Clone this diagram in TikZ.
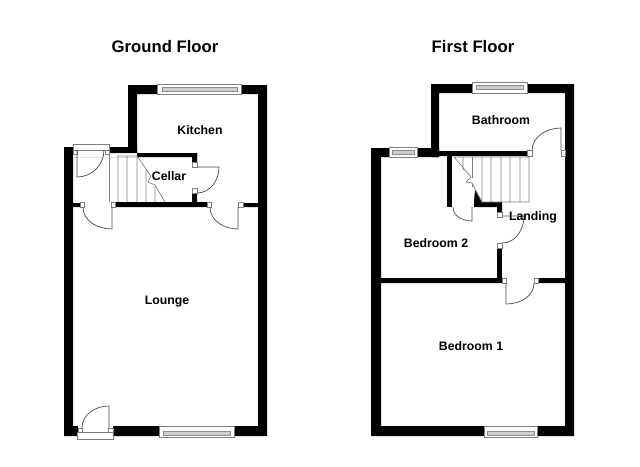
\documentclass[tikz,border=0pt]{standalone}
\usepackage{fontspec}
\setmainfont{Liberation Sans}
\usepackage{tikz}
\tikzset{
  x=1pt,y=1pt,
  wall/.style={fill=black,draw=none},
  thin line/.style={draw=black!50,line width=0.7pt},
  door/.style={draw=black!70,line width=0.7pt},
  frame/.style={draw=black!50,fill=white,line width=0.7pt},
  pane/.style={draw=black!45,fill=black!20,line width=0.6pt},
  room/.style={font=\bfseries\fontsize{12.3}{14}\selectfont,inner sep=0pt},
  floor title/.style={font=\bfseries\fontsize{16.7}{19}\selectfont,inner sep=0pt}
}
\begin{document}
\begin{tikzpicture}
\useasboundingbox[fill=white] (0,0) rectangle (640,-466);

\fill[wall] (128,-85) -- (267,-85) -- (267,-436) -- (64,-436) -- (64,-147) -- (128,-147) -- cycle
  (137,-94) -- (137,-157) -- (73,-157) -- (73,-426) -- (258,-426) -- (258,-94) -- cycle;
\fill[white] (73,-147) rectangle (109,-157) (109,-153) rectangle (137,-157);
\fill[wall] (109,-148) rectangle (137,-153) (137,-153) rectangle (197,-157);
\fill[wall] (192,-153) rectangle (197,-162) (192,-193) rectangle (197,-203);
\fill[wall] (115,-202) rectangle (207,-207) (73,-203) rectangle (80,-207) (243,-203) rectangle (258,-207);

\draw[frame] (157,-84) rectangle (241,-94);
\draw[pane] (162,-87) rectangle (237,-91);
\draw[frame] (159,-426) rectangle (234,-437);
\draw[pane] (163,-431) rectangle (230,-435);

\draw[frame] (73,-144) rectangle (109,-150);
\draw[frame] (73,-150) rectangle (77,-154);
\draw[frame] (105,-150) rectangle (109,-154);
\draw[door] (77,-150) -- (77,-177) to[out=0,in=270] (104,-150);

\draw[frame] (192,-162) rectangle (197,-167);
\draw[frame] (192,-188) rectangle (197,-193);
\draw[door] (197,-167) -- (219,-167) to[out=270,in=0] (197,-193);

\draw[thin line] (109,-150) -- (109,-202);
\draw[frame] (111,-202) rectangle (115,-207);
\draw[frame] (80,-202) rectangle (84,-207);
\draw[door] (112,-207) -- (112,-229) to[out=180,in=270] (83,-207);

\draw[frame] (207,-202) rectangle (211,-207);
\draw[frame] (238,-202) rectangle (243,-207);
\draw[door] (238,-207) -- (238,-229) to[out=180,in=270] (210,-207);

\fill[white] (78,-426) rectangle (113,-436);
\draw[frame] (77,-432) rectangle (113,-439);
\draw[frame] (78,-428) rectangle (82,-432);
\draw[frame] (108,-428) rectangle (113,-432);
\draw[door] (109,-428) -- (109,-406) to[out=180,in=90] (82,-428);

\draw[thin line] (117,-156) -- (137,-156)
  (118,-156) -- (118,-202) (127,-156) -- (127,-202) (137,-156) -- (137,-202)
  (146,-170) -- (146,-202) (155,-186) -- (155,-202)
  (137,-156) -- (151,-176) -- (148,-182) -- (155,-185) -- (165,-202);

\fill[wall] (431,-84) -- (574,-84) -- (574,-436) -- (371,-436) -- (371,-148) -- (431,-148) -- cycle
  (439,-93) -- (439,-157) -- (381,-157) -- (381,-426) -- (565,-426) -- (565,-93) -- cycle;
\fill[wall] (431,-148) rectangle (439,-157) (439,-151) rectangle (528,-156);
\fill[wall] (447,-156) rectangle (452,-207);
\fill[wall] (474,-202) rectangle (502,-207) (497,-202) rectangle (502,-212);
\fill[wall] (475,-190) -- (482,-202) -- (474,-202) -- cycle;
\fill[wall] (497,-248) rectangle (502,-280);
\fill[wall] (381,-278) rectangle (502,-283) (538,-278) rectangle (565,-283);

\draw[frame] (472,-82) rectangle (527,-93);
\draw[pane] (476,-85) rectangle (523,-89);
\draw[frame] (389,-147) rectangle (417,-157);
\draw[pane] (392,-150) rectangle (414,-154);
\draw[frame] (484,-426) rectangle (537,-437);
\draw[pane] (487,-431) rectangle (534,-435);

\draw[frame] (527,-150) rectangle (532,-156);
\draw[frame] (561,-150) rectangle (565,-156);
\draw[door] (561,-150) -- (561,-128) to[out=180,in=90] (532,-151);

\draw[door] (472,-207) -- (472,-221) to[out=180,in=270] (453,-207);

\draw[frame] (497,-212) rectangle (502,-217);
\draw[frame] (497,-243) rectangle (502,-248);
\draw[door] (502,-216) -- (524,-216) to[out=270,in=0] (502,-243);

\draw[frame] (502,-278) rectangle (506,-283);
\draw[frame] (534,-278) rectangle (538,-283);
\draw[door] (506,-283) -- (506,-304) to[out=0,in=270] (534,-283);

\draw[thin line] (454,-157) -- (529,-157) (482,-202) -- (529,-202)
  (463,-157) -- (463,-170) (472.5,-157) -- (472.5,-178) (472.5,-184) -- (472.5,-187)
  (482,-157) -- (482,-202) (491,-157) -- (491,-202) (501,-157) -- (501,-202)
  (510,-157) -- (510,-202) (520,-157) -- (520,-202) (529,-157) -- (529,-202)
  (454,-157) -- (471,-177) -- (466,-182) -- (472,-183) -- (482,-202);

\node[floor title] (groundfloor) at (165,-47) {Ground Floor};
\node[floor title] (firstfloor) at (473,-47) {First Floor};
\node[room] (kitchen) at (200,-130) {Kitchen};
\node[room] (cellar) at (169,-176) {Cellar};
\node[room] (lounge) at (167,-302) {Lounge};
\node[room] (bathroom) at (501,-120.5) {Bathroom};
\node[room] (landing) at (533,-217) {Landing};
\node[room] (bedroomtwo) at (436,-243) {Bedroom 2};
\node[room] (bedroomone) at (471,-346) {Bedroom 1};
\end{tikzpicture}
\end{document}
